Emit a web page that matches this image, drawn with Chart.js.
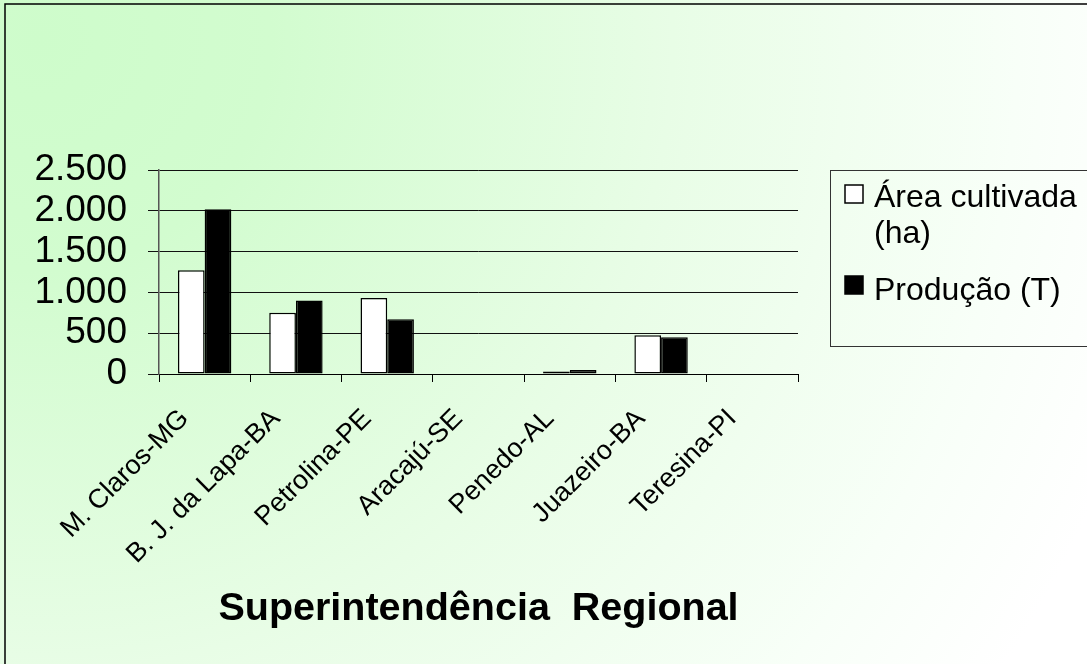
<!DOCTYPE html>
<html lang="pt-BR">
<head>
<meta charset="utf-8">
<title>Superintendência Regional</title>
<script src="https://cdn.jsdelivr.net/npm/chart.js@4/dist/chart.umd.min.js"></script>
<style>
  html, body { margin: 0; padding: 0; background: #ffffff; }
  #wrap { width: 1087px; height: 664px; position: relative; }
  canvas { display: block; }
</style>
</head>
<body>
<div id="wrap"><canvas id="chart" width="1087" height="664"></canvas></div>
<script>
// Regional offices (categories)
const categories = [
  'M. Claros-MG',
  'B. J. da Lapa-BA',
  'Petrolina-PE',
  'Aracajú-SE',
  'Penedo-AL',
  'Juazeiro-BA',
  'Teresina-PI'
];

// Cultivated area (ha) per office
const areaCultivada = [1270, 750, 930, 0, 30, 475, 0];

// Production (T) per office
const producao = [2020, 900, 670, 0, 50, 450, 0];

// Series names (the first one wraps onto two lines in the legend)
const seriesNames = [['Área cultivada', '(ha)'], ['Produção (T)']];

// Value axis tick labels (pt-BR thousands separator)
const yTickValues = [0, 500, 1000, 1500, 2000, 2500];
const yTickLabels = ['0', '500', '1.000', '1.500', '2.000', '2.500'];

const axisTitle = 'Superintendência  Regional';

const FONT = '"Liberation Sans", Arial, sans-serif';

// Page background: soft green fading to white, plus the outer frame
const backgroundPlugin = {
  id: 'pageBackground',
  beforeDraw(chart) {
    const ctx = chart.ctx;
    const w = chart.width, h = chart.height;
    ctx.save();
    const g = ctx.createRadialGradient(40, 40, 0, 40, 40, 1150);
    g.addColorStop(0, '#cefccb');
    g.addColorStop(0.2, '#d2fccf');
    g.addColorStop(0.55, '#e8fde6');
    g.addColorStop(0.85, '#f8fff8');
    g.addColorStop(1, '#ffffff');
    ctx.fillStyle = g;
    ctx.fillRect(0, 0, w, h);
    ctx.strokeStyle = '#000000';
    ctx.lineWidth = 1.5;
    ctx.strokeRect(5, 4, w + 10, h + 10);
    ctx.restore();
  }
};

// Boxed legend with wrapped series names
const boxLegendPlugin = {
  id: 'boxLegend',
  afterDraw(chart) {
    const ctx = chart.ctx;
    const ds = chart.data.datasets;
    ctx.save();
    ctx.strokeStyle = '#333333';
    ctx.lineWidth = 1;
    ctx.strokeRect(830.5, 170.5, 300, 176);

    ctx.font = '32px ' + FONT;
    ctx.textBaseline = 'alphabetic';
    ctx.textAlign = 'left';

    const itemTops = [185, 276];
    const baselines = [[207, 243], [300]];
    ds.forEach((d, i) => {
      const y = itemTops[i];
      ctx.fillStyle = d.backgroundColor;
      ctx.fillRect(845, y, 18, 18);
      ctx.strokeStyle = '#000000';
      ctx.lineWidth = 1.5;
      ctx.strokeRect(845, y, 18, 18);
      ctx.fillStyle = '#000000';
      seriesNames[i].forEach((line, j) => {
        ctx.fillText(line, 874, baselines[i][j]);
      });
    });
    ctx.restore();
  }
};

const ctx = document.getElementById('chart').getContext('2d');
new Chart(ctx, {
  type: 'bar',
  data: {
    labels: categories,
    datasets: [
      {
        label: seriesNames[0].join(' '),
        data: areaCultivada,
        backgroundColor: '#ffffff',
        borderColor: '#000000',
        borderWidth: 1.5,
        borderSkipped: false
      },
      {
        label: seriesNames[1].join(' '),
        data: producao,
        backgroundColor: '#000000',
        borderColor: '#000000',
        borderWidth: 1.5,
        borderSkipped: false
      }
    ]
  },
  options: {
    responsive: false,
    animation: false,
    devicePixelRatio: 1,
    layout: { padding: { top: 170, right: 289, bottom: 0, left: 0 } },
    datasets: {
      bar: { categoryPercentage: 0.585, barPercentage: 1.0 }
    },
    plugins: {
      legend: { display: false },
      tooltip: { enabled: false },
      title: { display: false }
    },
    scales: {
      x: {
        grid: {
          display: true,
          drawOnChartArea: false,
          drawTicks: true,
          tickLength: 8,
          color: '#000000',
          lineWidth: 1
        },
        border: { display: true, color: '#000000', width: 1 },
        ticks: {
          autoSkip: false,
          minRotation: 45,
          maxRotation: 45,
          padding: 21,
          labelOffset: -20,
          color: '#000000',
          font: { family: FONT, size: 27 }
        },
        title: {
          display: true,
          text: axisTitle,
          color: '#000000',
          font: { family: FONT, size: 39.5, weight: 'bold' },
          padding: { top: 0, bottom: 31 }
        },
        afterFit(scale) { scale.height = 290; }
      },
      y: {
        min: 0,
        max: 2500,
        grid: {
          color: '#111111',
          lineWidth: 1,
          drawTicks: true,
          tickLength: 11
        },
        border: { display: true, color: '#555555', width: 1.5 },
        ticks: {
          stepSize: 500,
          autoSkip: false,
          padding: 21,
          color: '#000000',
          font: { family: FONT, size: 37 },
          callback(value) {
            const i = yTickValues.indexOf(value);
            return i >= 0 ? yTickLabels[i] : '';
          }
        },
        afterFit(scale) { scale.width = 159; }
      }
    }
  },
  plugins: [backgroundPlugin, boxLegendPlugin]
});
</script>
</body>
</html>
